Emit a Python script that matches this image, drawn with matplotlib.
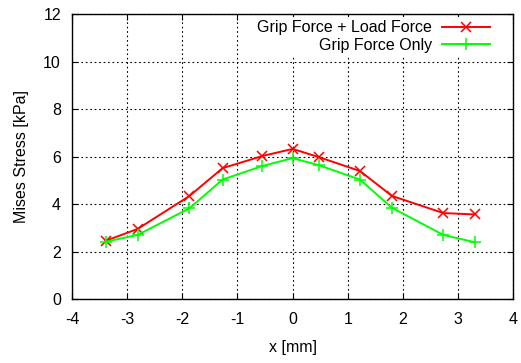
import numpy as np
import matplotlib
matplotlib.use('Agg')
import matplotlib.pyplot as plt

#data
x_pos = [-3.39, -2.81, -1.87, -1.27, -0.55, 0.0, 0.48, 1.22, 1.80, 2.73, 3.30]
grip_load = [2.45, 2.95, 4.34, 5.51, 6.02, 6.32, 5.97, 5.39, 4.34, 3.62, 3.56]
grip_only = [2.41, 2.70, 3.82, 5.03, 5.60, 5.93, 5.63, 5.03, 3.84, 2.70, 2.39]

x_ticks = [-4, -3, -2, -1, 0, 1, 2, 3, 4]
y_ticks = [0, 2, 4, 6, 8, 10, 12]

plt.rcParams['font.family'] = ['Liberation Sans', 'DejaVu Sans']
plt.rcParams['axes.unicode_minus'] = False

fig = plt.figure(figsize=(5.21, 3.63), dpi=100)
ax = fig.add_axes([0.1382, 0.1763, 0.847, 0.7851])

ax.plot(x_pos, grip_load, '-x', color='#ff0000', lw=1.4, ms=7, mew=1.1,
        label='Grip Force + Load Force')
ax.plot(x_pos, grip_only, '-+', color='#00ff00', lw=1.4, ms=8, mew=1.1,
        label='Grip Force Only')

ax.set_xlim(-4, 4)
ax.set_ylim(0, 12)
ax.set_xticks(x_ticks)
ax.set_yticks(y_ticks)
ax.grid(True, color='black', linestyle=(0, (1.5, 2.5)), lw=0.8)
ax.tick_params(axis='both', direction='in', top=True, right=True, length=4, labelsize=11.5)
ax.tick_params(axis='x', pad=9)
ax.tick_params(axis='y', pad=8)
for s in ax.spines.values():
    s.set_linewidth(1.0)

ax.set_xlabel('x [mm]', fontsize=11.5, labelpad=10)
ax.set_ylabel('Mises Stress [kPa]', fontsize=11.5, labelpad=10)

leg = ax.legend(loc='upper right', markerfirst=False, fontsize=11.5,
                frameon=True, fancybox=False, framealpha=1, edgecolor='none',
                facecolor='white', handlelength=3.0, borderpad=0.2,
                labelspacing=0.15, borderaxespad=1.0, handletextpad=0.6)
leg.set_bbox_to_anchor((0.99, 1.045), transform=ax.transAxes)

fig.savefig('out.png', dpi=100)
